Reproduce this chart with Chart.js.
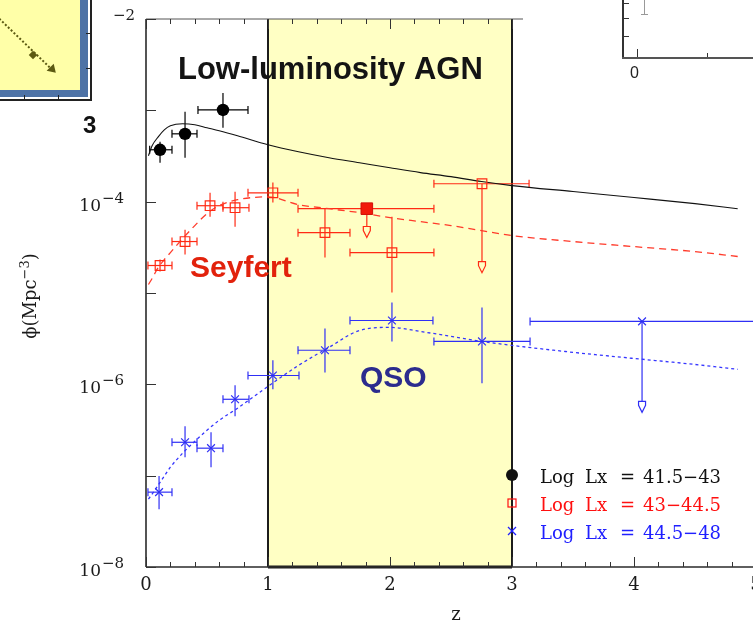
<!DOCTYPE html>
<html>
<head>
<meta charset="utf-8">
<script src="https://cdn.jsdelivr.net/npm/chart.js@4.4.1/dist/chart.umd.min.js"></script>
<style>
    html, body { margin: 0; padding: 0; background: #fff; overflow: hidden; }
    body { width: 753px; height: 627px; position: relative; }
    #chartBox { position: absolute; left: 0; top: 0; width: 800px; height: 627px; }
    .deco { position: absolute; }
</style>
</head>
<body>
<div id="chartBox"><canvas id="lfChart"></canvas></div>

<!-- bits of the neighbouring slide panels -->
<div class="deco" style="left:0;top:0;width:80px;height:90px;background:#ffffa8;"></div>
<div class="deco" style="left:80px;top:0;width:8px;height:97px;background:#4d72a6;"></div>
<div class="deco" style="left:0;top:90px;width:88px;height:7px;background:#4d72a6;"></div>
<div class="deco" style="left:90px;top:0;width:2px;height:101px;background:#222;"></div>
<div class="deco" style="left:0;top:99px;width:92px;height:2px;background:#222;"></div>
<div class="deco" style="left:86px;top:33px;width:5px;height:1px;background:#222;"></div>
<div class="deco" style="left:86px;top:68px;width:5px;height:1px;background:#222;"></div>
<div class="deco" style="left:24px;top:95px;width:1px;height:5px;background:#222;"></div>
<div class="deco" style="left:58px;top:95px;width:1px;height:5px;background:#222;"></div>
<div class="deco" style="left:0;top:18px;width:74px;border-top:2px dotted #5c5a12;transform:rotate(44deg);transform-origin:0 0;"></div>
<div class="deco" style="left:30px;top:52px;width:6px;height:6px;background:#5c5a12;transform:rotate(45deg);"></div>
<div class="deco" style="left:48px;top:66px;width:0;height:0;border-left:5px solid transparent;border-right:5px solid transparent;border-top:8px solid #5c5a12;transform:rotate(-45deg);"></div>
<div class="deco" style="left:83px;top:111px;font:bold 24px 'Liberation Sans', Arial, sans-serif;color:#111;">3</div>

<div class="deco" style="left:523px;top:0;width:230px;height:62px;background:#fff;"></div>
<div class="deco" style="left:622px;top:0;width:2px;height:59px;background:#333;"></div>
<div class="deco" style="left:622px;top:57px;width:131px;height:2px;background:#555;"></div>
<div class="deco" style="left:624px;top:3px;width:5px;height:1px;background:#333;"></div>
<div class="deco" style="left:624px;top:18px;width:5px;height:1px;background:#333;"></div>
<div class="deco" style="left:624px;top:36px;width:5px;height:1px;background:#333;"></div>
<div class="deco" style="left:637px;top:49px;width:1px;height:8px;background:#333;"></div>
<div class="deco" style="left:707px;top:53px;width:1px;height:4px;background:#333;"></div>
<div class="deco" style="left:644px;top:0;width:1px;height:14px;background:#999;"></div>
<div class="deco" style="left:641px;top:14px;width:7px;height:1px;background:#999;"></div>
<div class="deco" style="left:630px;top:64px;font:16px 'Liberation Sans', Arial, sans-serif;color:#222;">0</div>

<script>
// redshift grid of the model curves
const modelZ = [0.02, 0.05, 0.1, 0.15, 0.2, 0.3, 0.4, 0.5, 0.6, 0.75, 1.0, 1.25, 1.5, 1.75, 2.0, 2.25, 2.5, 2.75, 3.0, 3.5, 4.0, 4.5, 4.85];
const lowLumModel = [3.18e-4, 4.09e-4, 5.13e-4, 6.12e-4, 6.77e-4, 7.12e-4, 6.95e-4, 6.44e-4, 5.97e-4, 5.26e-4, 4.20e-4, 3.52e-4, 3.03e-4, 2.67e-4, 2.35e-4, 2.08e-4, 1.88e-4, 1.66e-4, 1.50e-4, 1.29e-4, 1.11e-4, 9.51e-5, 8.38e-5];
const seyfertModel = [1.24e-5, 1.44e-5, 1.90e-5, 2.32e-5, 2.77e-5, 3.94e-5, 5.47e-5, 7.40e-5, 9.04e-5, 1.05e-4, 1.13e-4, 9.27e-5, 8.38e-5, 7.58e-5, 6.68e-5, 6.04e-5, 5.47e-5, 4.82e-5, 4.25e-5, 3.66e-5, 3.22e-5, 2.84e-5, 2.51e-5];
const qsoModel = [5.53e-8, 6.28e-8, 7.87e-8, 9.89e-8, 1.24e-7, 1.76e-7, 2.38e-7, 3.14e-7, 4.04e-7, 5.47e-7, 9.51e-7, 1.61e-6, 2.54e-6, 3.89e-6, 4.20e-6, 3.79e-6, 3.35e-6, 2.95e-6, 2.67e-6, 2.24e-6, 1.92e-6, 1.65e-6, 1.46e-6];

// Log Lx = 41.5-43 (filled circles)
const lowLumZ = [0.115, 0.32, 0.631];
const lowLumZLo = [0.03, 0.213, 0.426];
const lowLumZHi = [0.213, 0.418, 0.836];
const lowLumPhi = [3.70e-4, 5.53e-4, 1.01e-3];
const lowLumPhiLo = [2.67e-4, 3.03e-4, 6.44e-4];
const lowLumPhiHi = [4.53e-4, 9.64e-4, 1.55e-3];

// Log Lx = 43-44.5 (open squares), last one is an upper limit
const seyfertZ = [0.115, 0.32, 0.525, 0.73, 1.04, 1.467, 2.016, 2.754];
const seyfertZLo = [0.016, 0.213, 0.418, 0.631, 0.836, 1.246, 1.672, 2.36];
const seyfertZHi = [0.213, 0.418, 0.631, 0.844, 1.246, 1.672, 2.36, 3.14];
const seyfertPhi = [2.0e-5, 3.66e-5, 9.03e-5, 8.59e-5, 1.25e-4, 4.58e-5, 2.77e-5, 1.57e-4];
const seyfertPhiLo = [1.72e-5, 2.64e-5, 6.85e-5, 5.33e-5, 9.77e-5, 2.44e-5, 1.01e-5, null];
const seyfertPhiHi = [2.32e-5, 4.94e-5, 1.25e-4, 1.28e-4, 1.62e-4, 8.38e-5, 6.85e-5, null];
const seyfertArrowTo = [null, null, null, null, null, null, null, 1.67e-5];

// red filled square, upper limit
const limitZ = [1.81];
const limitZLo = [1.246];
const limitZHi = [2.36];
const limitPhi = [8.38e-5];
const limitArrowTo = [4.05e-5];

// Log Lx = 44.5-48 (crosses), last one is an upper limit
const qsoZ = [0.107, 0.32, 0.533, 0.73, 1.04, 1.467, 2.016, 2.754, 4.066];
const qsoZLo = [0.016, 0.213, 0.418, 0.631, 0.836, 1.246, 1.672, 2.36, 3.148];
const qsoZHi = [0.213, 0.418, 0.631, 0.844, 1.254, 1.672, 2.352, 3.148, 5.0];
const qsoPhi = [6.6e-8, 2.32e-7, 2.0e-7, 6.86e-7, 1.25e-6, 2.36e-6, 5.0e-6, 2.95e-6, 4.89e-6];
const qsoPhiLo = [4.3e-8, 1.59e-7, 1.24e-7, 4.47e-7, 8.81e-7, 1.35e-6, 2.95e-6, 1.03e-6, null];
const qsoPhiHi = [9.9e-8, 3.48e-7, 2.99e-7, 9.75e-7, 1.83e-6, 4.09e-6, 7.87e-6, 6.95e-6, null];
const qsoArrowTo = [null, null, null, null, null, null, null, null, 4.94e-7];

// axes
const xTickLabels = [0, 1, 2, 3, 4, 5];
const yDecades = [-8, -7, -6, -5, -4, -3, -2];
const yLabelDecades = [-8, -6, -4];
const bandRange = [1, 3];

const legendRows = [
    { text: ["Log", "Lx", "=", "41.5\u221243"], color: "#111", marker: "circle" },
    { text: ["Log", "Lx", "=", "43\u221244.5"], color: "#ff1010", marker: "square" },
    { text: ["Log", "Lx", "=", "44.5\u221248"], color: "#2020ff", marker: "cross" }
];

const annotations = [
    { text: "Low-luminosity AGN", z: 0.262, phi: 2.21e-3, color: "#141414", size: 31 },
    { text: "Seyfert", z: 0.361, phi: 1.48e-5, color: "#e2220c", size: 30 },
    { text: "QSO", z: 1.754, phi: 9.27e-7, color: "#2c2c8e", size: 30 }
];

const RED = "#ff2a14";
const BLUE = "#2f2ff5";
const SERIF = "'DejaVu Serif', 'Liberation Serif', serif";
const SANS = "'Liberation Sans', Arial, sans-serif";

function toPoints(xs, ys) {
    return xs.map((x, i) => ({ x: x, y: ys[i] }));
}

function line(ctx, x0, y0, x1, y1) {
    ctx.beginPath();
    ctx.moveTo(x0, y0);
    ctx.lineTo(x1, y1);
    ctx.stroke();
}

const errorSets = [
    { z: lowLumZ, lo: lowLumZLo, hi: lowLumZHi, phi: lowLumPhi, pLo: lowLumPhiLo, pHi: lowLumPhiHi, arrow: null, color: "#000" },
    { z: seyfertZ, lo: seyfertZLo, hi: seyfertZHi, phi: seyfertPhi, pLo: seyfertPhiLo, pHi: seyfertPhiHi, arrow: seyfertArrowTo, color: RED },
    { z: limitZ, lo: limitZLo, hi: limitZHi, phi: limitPhi, pLo: null, pHi: null, arrow: limitArrowTo, color: RED },
    { z: qsoZ, lo: qsoZLo, hi: qsoZHi, phi: qsoPhi, pLo: qsoPhiLo, pHi: qsoPhiHi, arrow: qsoArrowTo, color: BLUE }
];

const backdropPlugin = {
    id: "backdrop",
    beforeDatasetsDraw(chart) {
        const { ctx, chartArea, scales } = chart;
        const x0 = scales.x.getPixelForValue(bandRange[0]);
        const x1 = scales.x.getPixelForValue(bandRange[1]);
        ctx.save();
        ctx.fillStyle = "rgb(255,255,196)";
        ctx.fillRect(x0, chartArea.top, x1 - x0, chartArea.bottom - chartArea.top);
        ctx.strokeStyle = "#1c1c1c";
        ctx.lineWidth = 2;
        line(ctx, x0, chartArea.top, x0, chartArea.bottom);
        line(ctx, x1, chartArea.top, x1, chartArea.bottom);
        ctx.lineWidth = 3;
        line(ctx, x0, chartArea.bottom, x1, chartArea.bottom);

        // error bars and upper limit arrows
        ctx.lineWidth = 1.2;
        errorSets.forEach(s => {
            ctx.strokeStyle = s.color;
            s.z.forEach((z, i) => {
                const x = scales.x.getPixelForValue(z);
                const y = scales.y.getPixelForValue(s.phi[i]);
                const xl = scales.x.getPixelForValue(s.lo[i]);
                const xr = scales.x.getPixelForValue(s.hi[i]);
                line(ctx, xl, y, xr, y);
                line(ctx, xl, y - 4, xl, y + 4);
                line(ctx, xr, y - 4, xr, y + 4);
                if (s.pLo && s.pLo[i] !== null) {
                    line(ctx, x, scales.y.getPixelForValue(s.pHi[i]), x, scales.y.getPixelForValue(s.pLo[i]));
                }
                if (s.arrow && s.arrow[i] !== null) {
                    const tip = scales.y.getPixelForValue(s.arrow[i]);
                    line(ctx, x, y, x, tip - 11);
                    ctx.beginPath();
                    ctx.moveTo(x - 3.5, tip - 11);
                    ctx.lineTo(x + 3.5, tip - 11);
                    ctx.lineTo(x + 3.5, tip - 7);
                    ctx.lineTo(x, tip);
                    ctx.lineTo(x - 3.5, tip - 7);
                    ctx.closePath();
                    ctx.stroke();
                }
            });
        });
        ctx.restore();
    }
};

const framePlugin = {
    id: "frame",
    afterDraw(chart) {
        const { ctx, chartArea, scales } = chart;
        const { left, right, top, bottom } = chartArea;
        const sx = scales.x, sy = scales.y;
        ctx.save();

        // frame
        ctx.strokeStyle = "#2a2a2a";
        ctx.lineWidth = 1.6;
        line(ctx, left, top, left, bottom);
        line(ctx, left, bottom, right, bottom);
        ctx.lineWidth = 1;
        ctx.strokeStyle = "#555";
        line(ctx, left, top, right, top);

        // x ticks, inward on bottom and top
        ctx.strokeStyle = "#333";
        ctx.lineWidth = 1;
        for (let k = 0; k <= 25; k++) {
            const x = Math.round(sx.getPixelForValue(k * 0.2)) + 0.5;
            const len = k % 5 === 0 ? 10 : 5;
            line(ctx, x, bottom, x, bottom - len);
            line(ctx, x, top, x, top + len);
        }
        // y ticks at every decade
        yDecades.forEach(d => {
            const y = Math.round(sy.getPixelForValue(Math.pow(10, d))) + 0.5;
            line(ctx, left, y, left + 10, y);
        });

        // x tick labels
        ctx.fillStyle = "#1a1a1a";
        ctx.font = "18px " + SERIF;
        ctx.textAlign = "center";
        ctx.textBaseline = "middle";
        xTickLabels.forEach(v => ctx.fillText(String(v), sx.getPixelForValue(v), bottom + 18));
        ctx.fillText("z", (left + sx.getPixelForValue(5)) / 2 + 5, bottom + 48);

        // y tick labels, 10 with superscript exponent
        ctx.textBaseline = "alphabetic";
        yLabelDecades.forEach(d => {
            const y = sy.getPixelForValue(Math.pow(10, d));
            ctx.font = "17px " + SERIF;
            ctx.textAlign = "right";
            ctx.fillText("10", left - 45, y + 9);
            ctx.font = "15px " + SERIF;
            ctx.textAlign = "left";
            ctx.fillText("\u2212" + (-d), left - 44, y + 1);
        });
        ctx.font = "15px " + SERIF;
        ctx.textAlign = "left";
        ctx.fillText("\u22122", left - 33, sy.getPixelForValue(1e-2) + 1);

        // y axis title
        ctx.save();
        ctx.translate(30, 296);
        ctx.rotate(-Math.PI / 2);
        ctx.font = "18px " + SERIF;
        const a = "\u03d5(Mpc", c = ")";
        const wa = ctx.measureText(a).width, wc = ctx.measureText(c).width;
        ctx.font = "13px " + SERIF;
        const b = "\u22123";
        const wb = ctx.measureText(b).width;
        let x = -(wa + wb + wc) / 2;
        ctx.font = "18px " + SERIF;
        ctx.fillText(a, x, 6);
        ctx.font = "13px " + SERIF;
        ctx.fillText(b, x + wa, -1);
        ctx.font = "18px " + SERIF;
        ctx.fillText(c, x + wa + wb, 6);
        ctx.restore();

        // population labels
        ctx.textAlign = "left";
        annotations.forEach(a => {
            ctx.font = "bold " + a.size + "px " + SANS;
            ctx.fillStyle = a.color;
            ctx.fillText(a.text, sx.getPixelForValue(a.z), sy.getPixelForValue(a.phi));
        });

        // legend
        const lx = 512, ly = 475, gap = 28;
        legendRows.forEach((row, i) => {
            const y = ly + i * gap;
            ctx.strokeStyle = row.color;
            ctx.fillStyle = row.color;
            ctx.lineWidth = 1.2;
            if (row.marker === "circle") {
                ctx.beginPath();
                ctx.arc(lx, y, 6, 0, Math.PI * 2);
                ctx.fill();
            } else if (row.marker === "square") {
                ctx.strokeRect(lx - 4, y - 4, 8, 8);
            } else {
                line(ctx, lx - 4, y - 4, lx + 4, y + 4);
                line(ctx, lx - 4, y + 4, lx + 4, y - 4);
            }
            ctx.font = "18px " + SERIF;
            const xs = [540, 585, 620, 643];
            row.text.forEach((t, j) => ctx.fillText(t, xs[j], y + 8));
        });
        ctx.restore();
    }
};

new Chart(document.getElementById("lfChart"), {
    type: "scatter",
    data: {
        datasets: [
            {
                label: "Log Lx = 41.5-43",
                data: toPoints(lowLumZ, lowLumPhi),
                pointStyle: "circle",
                pointRadius: 6.2,
                backgroundColor: "#000",
                borderColor: "#000",
                borderWidth: 0,
                order: 1
            },
            {
                label: "Log Lx = 43-44.5",
                data: toPoints(seyfertZ, seyfertPhi),
                pointStyle: "rect",
                pointRadius: 6.8,
                backgroundColor: "rgba(0,0,0,0)",
                borderColor: RED,
                borderWidth: 1.2,
                order: 1
            },
            {
                label: "limit",
                data: toPoints(limitZ, limitPhi),
                pointStyle: "rect",
                pointRadius: 8.2,
                backgroundColor: "#f21a0a",
                borderColor: "#d01008",
                borderWidth: 1,
                order: 1
            },
            {
                label: "Log Lx = 44.5-48",
                data: toPoints(qsoZ, qsoPhi),
                pointStyle: "crossRot",
                pointRadius: 5.5,
                borderColor: BLUE,
                borderWidth: 1.2,
                order: 1
            },
            {
                type: "line",
                label: "low-lum model",
                data: toPoints(modelZ, lowLumModel),
                borderColor: "#111",
                borderWidth: 1.1,
                pointRadius: 0,
                cubicInterpolationMode: "monotone",
                order: 2
            },
            {
                type: "line",
                label: "seyfert model",
                data: toPoints(modelZ, seyfertModel),
                borderColor: "#ff3a2a",
                borderWidth: 1.3,
                borderDash: [7, 5],
                pointRadius: 0,
                cubicInterpolationMode: "monotone",
                order: 2
            },
            {
                type: "line",
                label: "qso model",
                data: toPoints(modelZ, qsoModel),
                borderColor: "#3535ff",
                borderWidth: 1.3,
                borderDash: [3, 3],
                pointRadius: 0,
                cubicInterpolationMode: "monotone",
                order: 2
            }
        ]
    },
    options: {
        responsive: true,
        maintainAspectRatio: false,
        animation: false,
        layout: { padding: { left: 0, top: 19, right: 44, bottom: 0 } },
        plugins: {
            legend: { display: false },
            tooltip: { enabled: false }
        },
        scales: {
            x: {
                type: "linear",
                position: "bottom",
                min: 0,
                max: 5,
                ticks: { display: false },
                grid: { display: false },
                border: { display: false },
                afterFit: s => { s.height = 60; }
            },
            y: {
                type: "logarithmic",
                position: "left",
                min: 1e-8,
                max: 1e-2,
                ticks: { display: false },
                grid: { display: false },
                border: { display: false },
                afterFit: s => { s.width = 146; }
            }
        }
    },
    plugins: [backdropPlugin, framePlugin]
});
</script>
</body>
</html>
